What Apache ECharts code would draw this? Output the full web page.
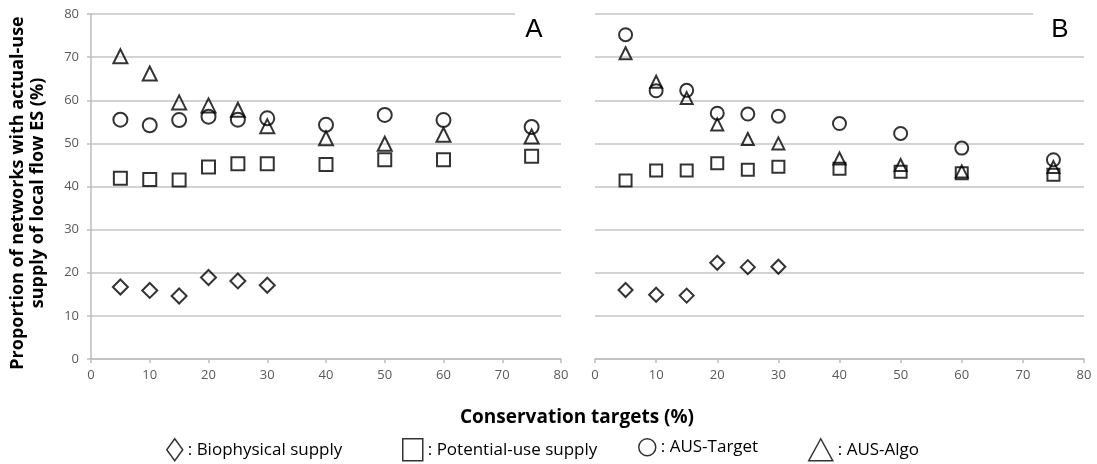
<!DOCTYPE html>
<html>
<head>
<meta charset="utf-8">
<title>Actual-use supply vs conservation targets</title>
<script src="https://cdn.jsdelivr.net/npm/echarts@6/dist/echarts.min.js"></script>
<style>
  html, body { margin: 0; padding: 0; background: #fff; }
  #chart { width: 1097px; height: 464px; }
</style>
</head>
<body>
<div id="chart"></div>
<script>
  // conservation targets (%) on x
  var targets = [5, 10, 15, 20, 25, 30, 40, 50, 60, 75];

  // panel A
  var bioA = [16.7, 15.9, 14.6, 18.9, 18.1, 17.1];
  var potA = [41.9, 41.6, 41.5, 44.5, 45.3, 45.3, 45.1, 46.2, 46.2, 47.0];
  var ausTargetA = [55.5, 54.2, 55.4, 56.2, 55.5, 55.8, 54.3, 56.6, 55.4, 53.8];
  var ausAlgoA = [70.2, 66.2, 59.5, 58.8, 57.8, 54.0, 51.2, 49.9, 52.0, 51.6];

  // panel B
  var bioB = [16.0, 14.9, 14.7, 22.3, 21.3, 21.4];
  var potB = [41.4, 43.7, 43.7, 45.4, 43.9, 44.6, 44.1, 43.4, 43.1, 42.7];
  var ausTargetB = [75.2, 62.2, 62.3, 57.0, 56.8, 56.3, 54.6, 52.3, 48.9, 46.2];
  var ausAlgoB = [70.9, 64.3, 60.5, 54.4, 51.0, 50.0, 46.5, 45.0, 43.5, 44.5];

  var seriesNames = ['Biophysical supply', 'Potential-use supply', 'AUS-Target', 'AUS-Algo'];

  var chart = echarts.init(document.getElementById('chart'));

  function pairs(vals) {
    return vals.map(function (v, i) { return [targets[i], v]; });
  }

  var gridColor = '#c4c4c4';
  var labelFont = '"Open Sans", sans-serif';

  function xAxisFor(idx) {
    return {
      type: 'value', gridIndex: idx, min: 0, max: 80, interval: 10,
      axisLine: { show: true, lineStyle: { color: '#bdbdbd', width: 1.5 } },
      axisTick: { show: true, length: 4, lineStyle: { color: '#bdbdbd', width: 1.5 } },
      axisLabel: { margin: 10, color: '#595959', fontSize: 13, fontFamily: labelFont },
      splitLine: { show: false }
    };
  }

  function yAxisFor(idx) {
    return {
      type: 'value', gridIndex: idx, min: 0, max: 80, interval: 10,
      axisLine: { show: idx === 0, lineStyle: { color: '#bdbdbd', width: 1.5 } },
      axisTick: { show: idx === 0, length: 4, lineStyle: { color: '#bdbdbd', width: 1.5 } },
      axisLabel: { show: idx === 0, margin: 12, color: '#595959', fontSize: 13, fontFamily: labelFont },
      splitLine: { show: true, lineStyle: { color: gridColor, width: 1.5 } }
    };
  }

  function scatter(name, sym, vals, idx, size) {
    return {
      name: name, type: 'scatter', xAxisIndex: idx, yAxisIndex: idx,
      symbol: sym, symbolSize: size,
      itemStyle: { color: 'rgba(0,0,0,0)', borderColor: '#000', borderWidth: 2 },
      data: pairs(vals)
    };
  }

  var series = [
    scatter(seriesNames[0], 'diamond', bioA, 0, 15),
    scatter(seriesNames[1], 'rect', potA, 0, 13),
    scatter(seriesNames[2], 'circle', ausTargetA, 0, 14),
    scatter(seriesNames[3], 'triangle', ausAlgoA, 0, 14),
    scatter(seriesNames[0], 'diamond', bioB, 1, 14),
    scatter(seriesNames[1], 'rect', potB, 1, 12),
    scatter(seriesNames[2], 'circle', ausTargetB, 1, 13),
    scatter(seriesNames[3], 'triangle', ausAlgoB, 1, 12)
  ];

  // legend glyphs are tall, like the text symbols in the original
  var legendLefts = [161, 397, 633, 803];
  var legendIconW = [16, 20, 17, 24];
  var legends = seriesNames.map(function (n, i) {
    return {
      data: [n], left: legendLefts[i], top: 433,
      itemWidth: legendIconW[i], itemHeight: 22, selectedMode: false,
      itemStyle: { color: 'rgba(0,0,0,0)', borderColor: '#000', borderWidth: 1.5 },
      textStyle: { fontSize: 17, color: '#000', fontFamily: labelFont },
      formatter: function (name) { return ': ' + name; }
    };
  });

  chart.setOption({
    animation: false,
    grid: [
      { left: 91, top: 14, width: 470, height: 345 },
      { left: 595, top: 14, width: 489, height: 345 }
    ],
    xAxis: [xAxisFor(0), xAxisFor(1)],
    yAxis: [yAxisFor(0), yAxisFor(1)],
    legend: legends,
    graphic: [
      { type: 'rect', z: 100, shape: { x: 515, y: 3, width: 50, height: 44 }, style: { fill: '#fff' } },
      { type: 'rect', z: 100, shape: { x: 1033, y: 3, width: 64, height: 44 }, style: { fill: '#fff' } },
      { type: 'text', z: 101, x: 534, y: 30, style: { text: 'A', font: '26px "Liberation Sans", Arial', fill: '#000', align: 'center', verticalAlign: 'middle' } },
      { type: 'text', z: 101, x: 1060, y: 30, style: { text: 'B', font: '26px "Liberation Sans", Arial', fill: '#000', align: 'center', verticalAlign: 'middle' } },
      {
        type: 'text', z: 101, x: 28, y: 193, rotation: Math.PI / 2,
        style: {
          text: 'Proportion of networks with actual-use\nsupply of local flow ES (%)',
          font: 'bold 18px "Open Sans", sans-serif', fill: '#000',
          align: 'center', verticalAlign: 'middle', lineHeight: 20
        }
      },
      {
        type: 'text', z: 101, x: 577, y: 418,
        style: { text: 'Conservation targets (%)', font: 'bold 19px "Open Sans", sans-serif', fill: '#000', align: 'center', verticalAlign: 'middle' }
      }
    ],
    series: series
  });
</script>
</body>
</html>
